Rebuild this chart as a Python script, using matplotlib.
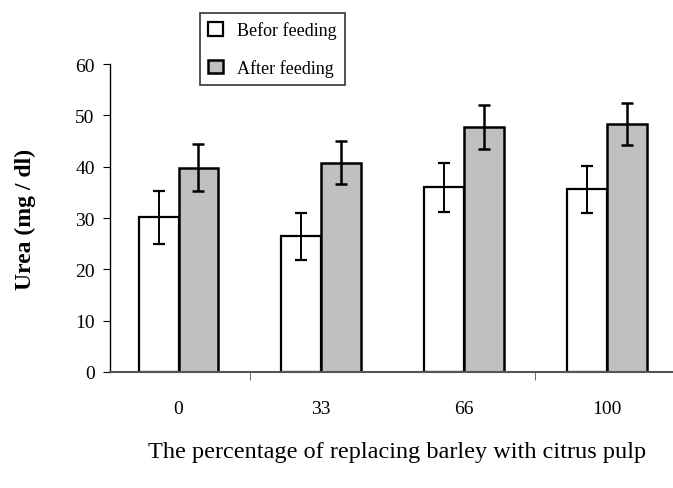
import numpy as np
import matplotlib
matplotlib.use("Agg")
import matplotlib.pyplot as plt

groups = ["0", "33", "66", "100"]
before = [30.1, 26.4, 36.0, 35.6]
before_err = [5.1, 4.6, 4.8, 4.6]
after = [39.8, 40.8, 47.7, 48.3]
after_err = [4.6, 4.2, 4.3, 4.1]

plt.rcParams["font.family"] = ["Liberation Serif", "DejaVu Serif"]

fig = plt.figure(figsize=(6.73, 4.89), dpi=100)
ax = fig.add_axes([110 / 673, 116 / 489, 1 - 110 / 673, 308 / 489])

x = np.arange(len(groups))
w = 0.28
ax.bar(x - w / 2, before, w, yerr=before_err, color="white", edgecolor="black",
       linewidth=1.6, label="Befor feeding",
       error_kw=dict(ecolor="black", elinewidth=1.4, capsize=4, capthick=1.6))
ax.bar(x + w / 2, after, w, yerr=after_err, color="#c0c0c0", edgecolor="black",
       linewidth=1.8, label="After feeding",
       error_kw=dict(ecolor="black", elinewidth=1.8, capsize=4, capthick=1.8))

ax.set_ylim(0, 60)
ax.set_xlim(-0.48, 3.465)
ax.set_yticks(range(0, 61, 10))
ax.set_xticks(x)
ax.set_xticklabels(groups)
ax.set_xticks([0.5, 2.5], minor=True)
ax.tick_params(axis="x", which="major", length=0, pad=20, labelsize=14)
ax.tick_params(axis="x", which="minor", length=6, direction="out", color="#555555")
ax.tick_params(axis="y", length=5, direction="out", labelsize=14, pad=6)
for side in ["top", "right"]:
    ax.spines[side].set_visible(False)
ax.spines["bottom"].set_color("#555555")
ax.spines["bottom"].set_linewidth(1.5)
ax.spines["left"].set_linewidth(1.0)

ax.set_ylabel("Urea (mg / dl)", fontsize=17, fontweight="bold", labelpad=28)
fig.text(397 / 673, 1 - 453 / 489, "The percentage of replacing barley with citrus pulp",
         ha="center", va="center", fontsize=17.5)

leg = fig.legend(loc="upper left", bbox_to_anchor=(200 / 673, 1 - 14 / 489),
                 fontsize=13, frameon=True, fancybox=False, edgecolor="black",
                 handlelength=0.8, handleheight=0.8, labelspacing=1.1,
                 borderpad=0.45, handletextpad=0.8, borderaxespad=0)
leg.get_frame().set_linewidth(1.2)

fig.savefig("out.png", dpi=100)
